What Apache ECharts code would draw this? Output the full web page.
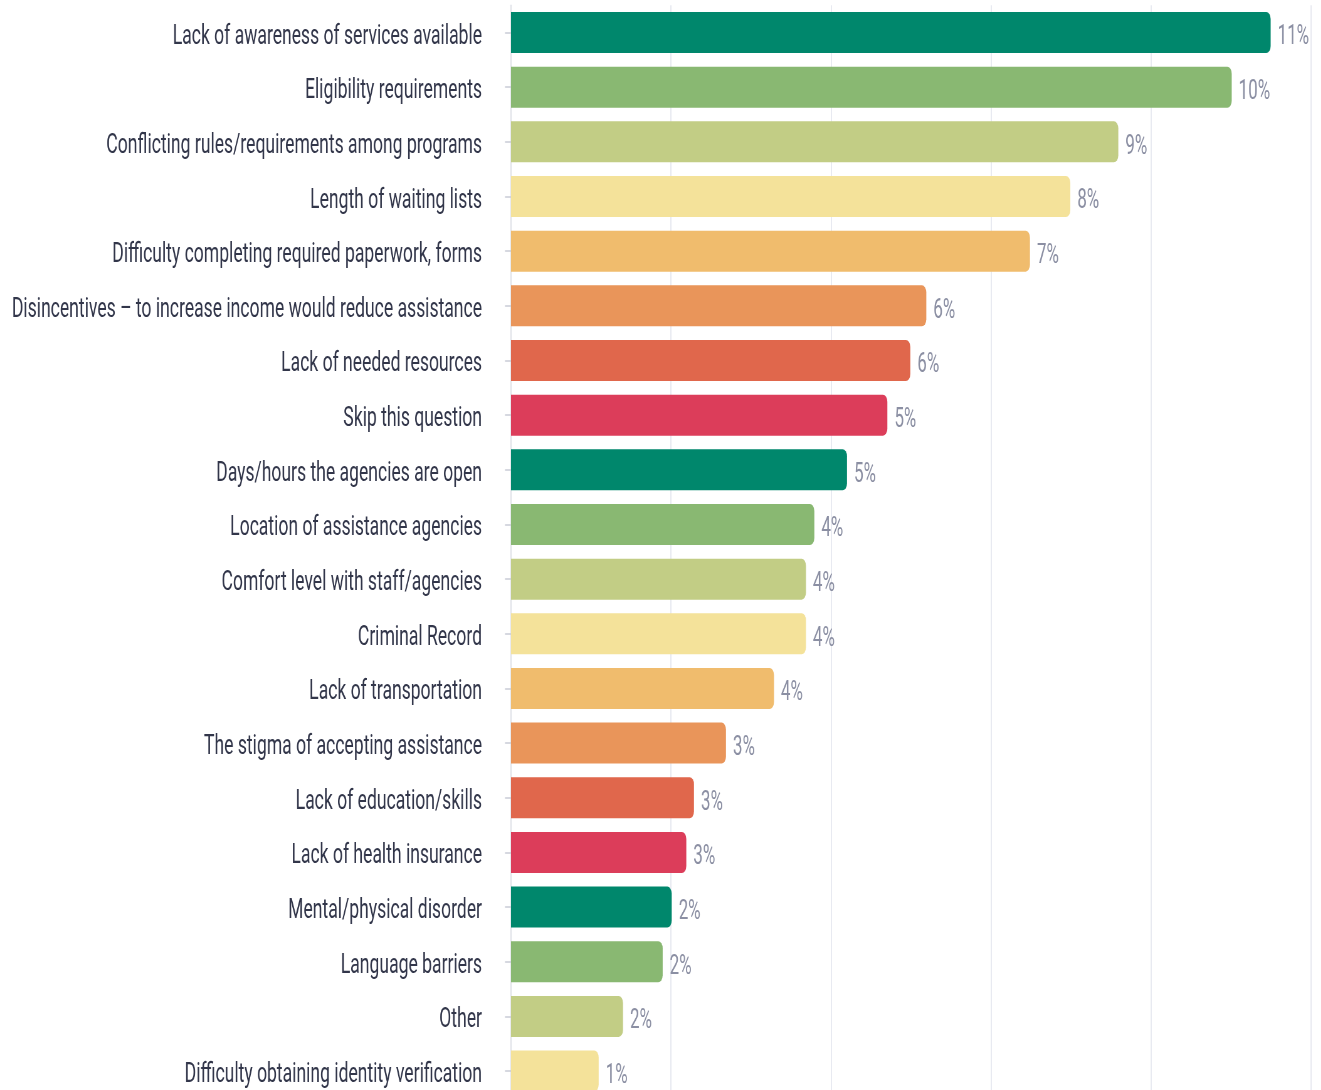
<!DOCTYPE html>
<html>
<head>
<meta charset="utf-8">
<script src="https://cdn.jsdelivr.net/npm/echarts@6/dist/echarts.min.js"></script>
<style>
  html, body { margin: 0; padding: 0; background: #ffffff; overflow: hidden; }
  #wrap { width: 1321px; height: 1090px; overflow: hidden; }
  #chart { height: 1110px; transform-origin: 0 0; }
</style>
</head>
<body>
<div id="wrap"><div id="chart"></div></div>
<script>
// Barriers to accessing assistance, share of responses (%)
const categories = [
  'Lack of awareness of services available',
  'Eligibility requirements',
  'Conflicting rules/requirements among programs',
  'Length of waiting lists',
  'Difficulty completing required paperwork, forms',
  'Disincentives \u2013 to increase income would reduce assistance',
  'Lack of needed resources',
  'Skip this question',
  'Days/hours the agencies are open',
  'Location of assistance agencies',
  'Comfort level with staff/agencies',
  'Criminal Record',
  'Lack of transportation',
  'The stigma of accepting assistance',
  'Lack of education/skills',
  'Lack of health insurance',
  'Mental/physical disorder',
  'Language barriers',
  'Other',
  'Difficulty obtaining identity verification'
];
const shares = [
  10.92, 10.36, 8.73, 8.04, 7.46, 5.97, 5.74, 5.41, 4.83, 4.36,
  4.24, 4.24, 3.78, 3.09, 2.63, 2.52, 2.31, 2.18, 1.61, 1.26
];
const palette = ['#00876c', '#89b872', '#c2cd85', '#f4e29a', '#f0bc6d', '#e9955a', '#e0674c', '#dc3d5a'];

// The chart is drawn wide and narrowed horizontally to get a condensed type look.
const squeeze = 0.627;
const W = 1321 / squeeze;
const el = document.getElementById('chart');
el.style.width = W + 'px';
el.style.transform = 'scaleX(' + squeeze + ')';

const chart = echarts.init(el, null, { renderer: 'canvas' });
chart.setOption({
  animation: false,
  backgroundColor: '#ffffff',
  grid: { left: 511 / squeeze, top: 5.2, width: 800 / squeeze, height: 1093.2, containLabel: false },
  xAxis: {
    type: 'value', min: 0, max: 11.5, interval: 2.3,
    axisLabel: { show: false }, axisTick: { show: false }, axisLine: { show: false },
    splitLine: { show: true, lineStyle: { color: '#e3e5ee', width: 1.6 } }
  },
  yAxis: {
    type: 'category', inverse: true, data: categories,
    axisLine: { show: true, lineStyle: { color: '#dfe1e8', width: 1.6 } },
    axisTick: { show: true, length: 6 / squeeze, alignWithLabel: true, lineStyle: { color: '#c9ccd6', width: 1.5 } },
    axisLabel: {
      margin: 29 / squeeze, color: '#32364a', fontFamily: 'Roboto', fontSize: 28,
      verticalAlign: 'top', lineHeight: 8
    }
  },
  series: [{
    type: 'bar', data: shares, barWidth: 41,
    itemStyle: {
      borderRadius: [0, 7, 7, 0],
      color: p => palette[p.dataIndex % palette.length]
    },
    label: {
      show: true, position: 'right', distance: 7 / squeeze, offset: [0, 5],
      color: '#8b8fa3', fontFamily: 'Roboto', fontSize: 27,
      formatter: p => Math.round(p.value) + '%'
    }
  }]
});
</script>
</body>
</html>
